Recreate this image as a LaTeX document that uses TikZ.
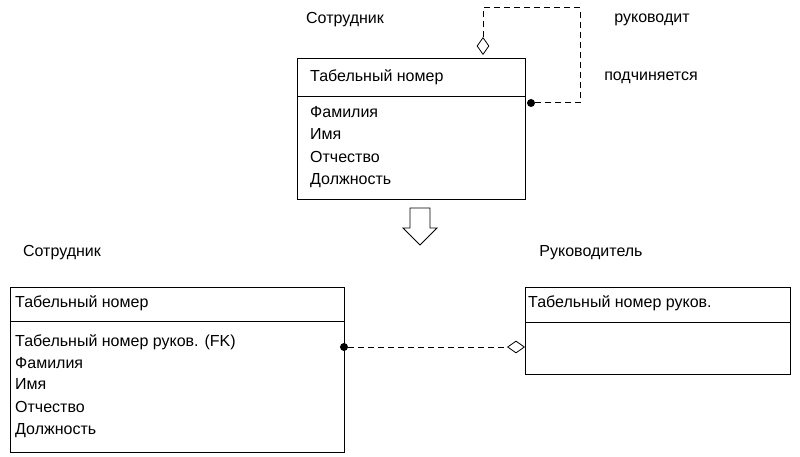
\documentclass[tikz,border=0pt]{standalone}
\usepackage{fontspec}
\setmainfont{Liberation Sans}
\usetikzlibrary{shapes.geometric}
\begin{document}
\begin{tikzpicture}[x=1pt,y=-1pt,
  txt/.style={anchor=west,font=\fontsize{16}{18}\selectfont,inner sep=0pt},
  lbl/.style={font=\fontsize{16}{18}\selectfont,inner sep=0pt},
  box/.style={draw,line width=1pt},
  dsh/.style={line width=1pt,dash pattern=on 6pt off 4pt},
  dia/.style={draw,diamond,fill=white,minimum width=12pt,minimum height=17pt,inner sep=0pt,line width=0.8pt},
  dot/.style={circle,fill=black,minimum size=8pt,inner sep=0pt}]
\useasboundingbox (0,0) rectangle (800,457);
% top
\node[lbl] (t1) at (345,20) {Сотрудник};
\node[lbl] (t2) at (652,20) {руководит};
\node[lbl] (t3) at (651,78) {подчиняется};
\draw[box] (297,59) rectangle (525,200);
\draw[line width=1pt] (297,97) -- (525,97);
\node[txt] at (310,77) {Табельный номер};
\node[txt] at (310,112) {Фамилия};
\node[txt] at (310,134) {Имя};
\node[txt] at (310,157) {Отчество};
\node[txt] at (310,181) {Должность};
\node[dia] (d1) at (483,46) {};
\node[dot] (p1) at (531,103) {};
\coordinate (c1) at (483,8);
\coordinate (c2) at (580,8);
\coordinate (c3) at (580,103);
\draw[dsh] (d1.north) -- (c1) -- (c2) -- (c3) -- (p1);
% arrow
\draw[line width=0.8pt] (410,208) -- (430,208) -- (430,228) -- (437,228) -- (420,245) -- (403,228) -- (410,228) -- cycle;
% bottom left
\node[lbl] (b1) at (62,253) {Сотрудник};
\draw[box] (10,287) rectangle (344,452);
\draw[line width=1pt] (10,321) -- (344,321);
\node[txt] at (15,303) {Табельный номер};
\node[txt] at (15,342) {Табельный номер руков. (FK)};
\node[txt] at (15,363) {Фамилия};
\node[txt] at (15,384) {Имя};
\node[txt] at (15,407) {Отчество};
\node[txt] at (15,431) {Должность};
% bottom right
\node[lbl] (b2) at (591,253) {Руководитель};
\draw[box] (525,287) rectangle (790,374);
\draw[line width=1pt] (525,322) -- (790,322);
\node[txt] at (528,303) {Табельный номер руков.};
\node[dot] (p2) at (344,347) {};
\node[dia,minimum width=17pt,minimum height=12pt] (d2) at (516,347) {};
\draw[dsh] (p2) -- (d2.west);
\end{tikzpicture}
\end{document}
